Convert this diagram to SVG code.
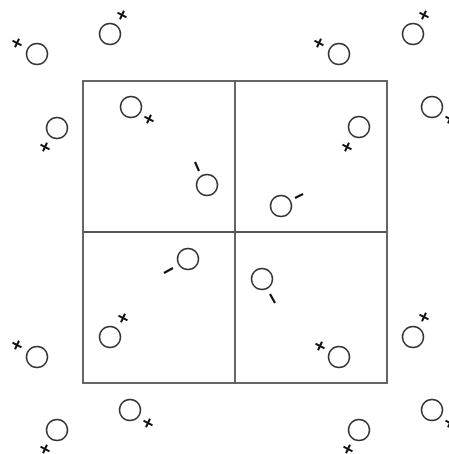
<svg xmlns="http://www.w3.org/2000/svg" width="449" height="454" viewBox="0 0 449 454">
<defs>
<style>
.c{fill:none;stroke:#333;stroke-width:1.5}
.x{fill:none;stroke:#111;stroke-width:2;stroke-linecap:butt}
.t{fill:none;stroke:#111;stroke-width:2.2}
.g{fill:none;stroke:#555;stroke-width:1.8}
</style>
<path id="cross" d="M-4.5,-2.4 L4.5,2.4 M-2,4.2 L2,-4.2"/>
</defs>
<rect width="449" height="454" fill="#fff"/>
<g id="grid">
<rect class="g" x="83" y="81" width="304" height="302"/>
<line class="g" x1="235" y1="81" x2="235" y2="383"/>
<line class="g" x1="83" y1="232" x2="387" y2="232"/>
</g>
<g id="n1"><circle class="c" cx="37" cy="54" r="10.5"/><use href="#cross" class="x" x="17" y="43"/></g>
<g id="n2"><circle class="c" cx="110" cy="34" r="10.5"/><use href="#cross" class="x" x="122" y="15"/></g>
<g id="n3"><circle class="c" cx="339" cy="54" r="10.5"/><use href="#cross" class="x" x="319" y="43"/></g>
<g id="n4"><circle class="c" cx="413" cy="34" r="10.5"/><use href="#cross" class="x" x="424" y="15"/></g>
<g id="n5"><circle class="c" cx="57" cy="128" r="10.5"/><use href="#cross" class="x" x="45" y="147"/></g>
<g id="n6"><circle class="c" cx="359" cy="127" r="10.5"/><use href="#cross" class="x" x="347" y="147"/></g>
<g id="n7"><circle class="c" cx="131" cy="107" r="10.5"/><use href="#cross" class="x" x="149" y="119"/></g>
<g id="n8"><circle class="c" cx="432" cy="107" r="10.5"/><use href="#cross" class="x" x="450" y="119"/></g>
<g id="n9"><circle class="c" cx="37" cy="357" r="10.5"/><use href="#cross" class="x" x="17" y="345"/></g>
<g id="n10"><circle class="c" cx="110" cy="337" r="10.5"/><use href="#cross" class="x" x="123" y="318"/></g>
<g id="n11"><circle class="c" cx="339" cy="357" r="10.5"/><use href="#cross" class="x" x="320" y="346"/></g>
<g id="n12"><circle class="c" cx="413" cy="337" r="10.5"/><use href="#cross" class="x" x="424" y="317"/></g>
<g id="n13"><circle class="c" cx="130" cy="410" r="10.5"/><use href="#cross" class="x" x="148" y="423"/></g>
<g id="n14"><circle class="c" cx="432" cy="410" r="10.5"/><use href="#cross" class="x" x="450" y="423"/></g>
<g id="n15"><circle class="c" cx="57" cy="430" r="10.5"/><use href="#cross" class="x" x="45" y="449"/></g>
<g id="n16"><circle class="c" cx="359" cy="430" r="10.5"/><use href="#cross" class="x" x="348" y="449"/></g>
<g id="n17"><circle class="c" cx="207" cy="185" r="10.5"/><line class="t" x1="195" y1="162" x2="199" y2="171"/></g>
<g id="n18"><circle class="c" cx="281" cy="206" r="10.5"/><line class="t" x1="295" y1="198" x2="303" y2="194"/></g>
<g id="n19"><circle class="c" cx="188" cy="259" r="10.5"/><line class="t" x1="164" y1="273" x2="173" y2="268"/></g>
<g id="n20"><circle class="c" cx="262" cy="279" r="10.5"/><line class="t" x1="270" y1="294" x2="275" y2="303"/></g>
</svg>
